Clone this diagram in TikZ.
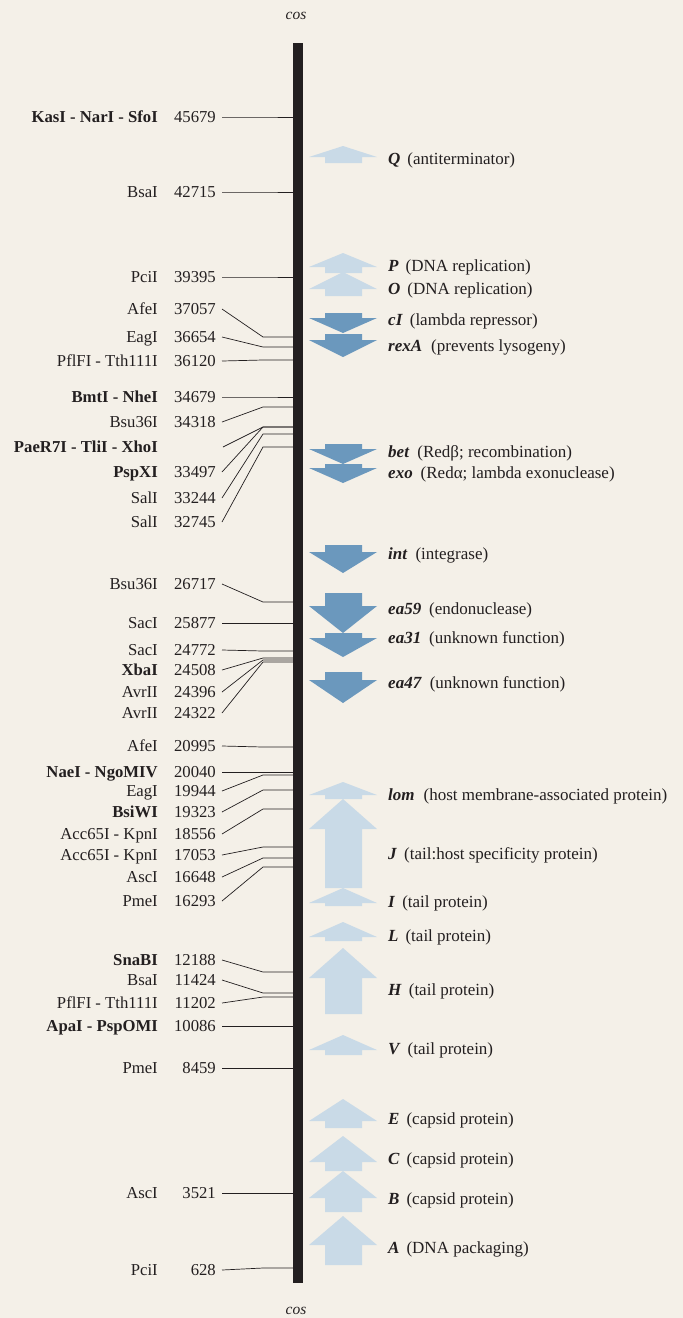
\documentclass[tikz,border=0pt]{standalone}
\usepackage{fontspec}
\setmainfont{Liberation Serif}
\begin{document}
\begin{tikzpicture}[
  sitename/.style={anchor=east, inner sep=0pt, text height=12pt, text depth=1pt,
    text={rgb,255:red,35;green,31;blue,32}, font=\fontsize{16.7}{18}\selectfont},
  sitenum/.style={sitename},
  genelbl/.style={anchor=west, inner sep=0pt, text height=12pt, text depth=1pt,
    text={rgb,255:red,35;green,31;blue,32}, font=\fontsize{17}{18}\selectfont},
  cosmark/.style={inner sep=0pt, text={rgb,255:red,35;green,31;blue,32}, font=\fontsize{15.5}{17}\selectfont\itshape},
  sitetick/.style={draw={rgb,255:red,35;green,31;blue,32}, line width=0.7pt}
]
% Lambda map drawn in pixel units (y grows downwards)
\def\pxsz{1pt}
\providecommand{\geneArrow}[3]{\fill (343,#1) -- (377,#2) -- (362,#2) -- (362,#3) -- (325,#3) -- (325,#2) -- (309,#2) -- cycle;}
\begin{scope}[x=\pxsz, y=-\pxsz, line join=miter]
  \useasboundingbox (0,0) rectangle (683,1318);
  % Background
  \fill[fill={rgb,255:red,244;green,240;blue,232}] (0,0) rectangle (683,1318);
  % Genome bar and cos ends
  \node[fill={rgb,255:red,35;green,31;blue,32}, inner sep=0pt, minimum width=10pt, minimum height=1240pt] (bar) at (298,663) {};
  \node[cosmark] (cosTop) at (296,16) {cos};
  \node[cosmark] (cosBot) at (296,1311) {cos};
  % Restriction sites: names
  \node[sitename] (s01) at (158,117) {\textbf{KasI - NarI - SfoI}};
  \node[sitename] (s02) at (158,192) {BsaI};
  \node[sitename] (s03) at (158,277) {PciI};
  \node[sitename] (s04) at (158,309) {AfeI};
  \node[sitename] (s05) at (158,337) {EagI};
  \node[sitename] (s06) at (158,361) {PflFI - Tth111I};
  \node[sitename] (s07) at (158,397) {\textbf{BmtI - NheI}};
  \node[sitename] (s08) at (158,422) {Bsu36I};
  \node[sitename] (s09) at (158,447) {\textbf{PaeR7I - TliI - XhoI}};
  \node[sitename] (s10) at (158,472) {\textbf{PspXI}};
  \node[sitename] (s11) at (158,498) {SalI};
  \node[sitename] (s12) at (158,522) {SalI};
  \node[sitename] (s13) at (158,584) {Bsu36I};
  \node[sitename] (s14) at (158,623) {SacI};
  \node[sitename] (s15) at (158,650) {SacI};
  \node[sitename] (s16) at (158,670) {\textbf{XbaI}};
  \node[sitename] (s17) at (158,692) {AvrII};
  \node[sitename] (s18) at (158,713) {AvrII};
  \node[sitename] (s19) at (158,746) {AfeI};
  \node[sitename] (s20) at (158,772) {\textbf{NaeI - NgoMIV}};
  \node[sitename] (s21) at (158,791) {EagI};
  \node[sitename] (s22) at (158,812) {\textbf{BsiWI}};
  \node[sitename] (s23) at (158,834) {Acc65I - KpnI};
  \node[sitename] (s24) at (158,855) {Acc65I - KpnI};
  \node[sitename] (s25) at (158,877) {AscI};
  \node[sitename] (s26) at (158,901) {PmeI};
  \node[sitename] (s27) at (158,960) {\textbf{SnaBI}};
  \node[sitename] (s28) at (158,980) {BsaI};
  \node[sitename] (s29) at (158,1003) {PflFI - Tth111I};
  \node[sitename] (s30) at (158,1026) {\textbf{ApaI - PspOMI}};
  \node[sitename] (s31) at (158,1068) {PmeI};
  \node[sitename] (s32) at (158,1193) {AscI};
  \node[sitename] (s33) at (158,1270) {PciI};
  % Restriction sites: positions
  \node[sitenum] (n01) at (216,117) {45679};
  \node[sitenum] (n02) at (216,192) {42715};
  \node[sitenum] (n03) at (216,277) {39395};
  \node[sitenum] (n04) at (216,309) {37057};
  \node[sitenum] (n05) at (216,337) {36654};
  \node[sitenum] (n06) at (216,361) {36120};
  \node[sitenum] (n07) at (216,397) {34679};
  \node[sitenum] (n08) at (216,422) {34318};
  \node[sitenum] (n09) at (216,447) {};
  \node[sitenum] (n10) at (216,472) {33497};
  \node[sitenum] (n11) at (216,498) {33244};
  \node[sitenum] (n12) at (216,522) {32745};
  \node[sitenum] (n13) at (216,584) {26717};
  \node[sitenum] (n14) at (216,623) {25877};
  \node[sitenum] (n15) at (216,650) {24772};
  \node[sitenum] (n16) at (216,670) {24508};
  \node[sitenum] (n17) at (216,692) {24396};
  \node[sitenum] (n18) at (216,713) {24322};
  \node[sitenum] (n19) at (216,746) {20995};
  \node[sitenum] (n20) at (216,772) {20040};
  \node[sitenum] (n21) at (216,791) {19944};
  \node[sitenum] (n22) at (216,812) {19323};
  \node[sitenum] (n23) at (216,834) {18556};
  \node[sitenum] (n24) at (216,855) {17053};
  \node[sitenum] (n25) at (216,877) {16648};
  \node[sitenum] (n26) at (216,901) {16293};
  \node[sitenum] (n27) at (216,960) {12188};
  \node[sitenum] (n28) at (216,980) {11424};
  \node[sitenum] (n29) at (216,1003) {11202};
  \node[sitenum] (n30) at (216,1026) {10086};
  \node[sitenum] (n31) at (216,1068) {8459};
  \node[sitenum] (n32) at (216,1193) {3521};
  \node[sitenum] (n33) at (216,1270) {628};
  % Kinks where ticks turn flat towards the bar
  \coordinate (k01) at (263,117);
  \coordinate (k02) at (263,192);
  \coordinate (k03) at (263,277);
  \coordinate (k04) at (263,337);
  \coordinate (k05) at (263,347);
  \coordinate (k06) at (263,360);
  \coordinate (k07) at (263,397);
  \coordinate (k08) at (263,407);
  \coordinate (k09) at (263,427);
  \coordinate (k10) at (263,427);
  \coordinate (k11) at (263,434);
  \coordinate (k12) at (263,447);
  \coordinate (k13) at (263,602);
  \coordinate (k14) at (263,623);
  \coordinate (k15) at (263,651);
  \coordinate (k16) at (263,658);
  \coordinate (k17) at (263,660);
  \coordinate (k18) at (263,662);
  \coordinate (k19) at (263,747);
  \coordinate (k20) at (263,772);
  \coordinate (k21) at (263,775);
  \coordinate (k22) at (263,790);
  \coordinate (k23) at (263,809);
  \coordinate (k24) at (263,847);
  \coordinate (k25) at (263,858);
  \coordinate (k26) at (263,867);
  \coordinate (k27) at (263,972);
  \coordinate (k28) at (263,993);
  \coordinate (k29) at (263,997);
  \coordinate (k30) at (263,1026);
  \coordinate (k31) at (263,1068);
  \coordinate (k32) at (263,1193);
  \coordinate (k33) at (263,1268);
  % Ticks
  \begin{scope}[sitetick]
    \draw ([xshift=6pt]n01.east) -- (k01) -- (k01 -| bar.west);
    \draw ([xshift=6pt]n02.east) -- (k02) -- (k02 -| bar.west);
    \draw ([xshift=6pt]n03.east) -- (k03) -- (k03 -| bar.west);
    \draw ([xshift=6pt]n04.east) -- (k04) -- (k04 -| bar.west);
    \draw ([xshift=6pt]n05.east) -- (k05) -- (k05 -| bar.west);
    \draw ([xshift=6pt]n06.east) -- (k06) -- (k06 -| bar.west);
    \draw ([xshift=6pt]n07.east) -- (k07) -- (k07 -| bar.west);
    \draw ([xshift=6pt]n08.east) -- (k08) -- (k08 -| bar.west);
    \draw ([xshift=7pt]n09.east) -- (k09) -- (k09 -| bar.west);
    \draw ([xshift=6pt]n10.east) -- (k10) -- (k10 -| bar.west);
    \draw ([xshift=6pt]n11.east) -- (k11) -- (k11 -| bar.west);
    \draw ([xshift=6pt]n12.east) -- (k12) -- (k12 -| bar.west);
    \draw ([xshift=6pt]n13.east) -- (k13) -- (k13 -| bar.west);
    \draw ([xshift=6pt]n14.east) -- (k14) -- (k14 -| bar.west);
    \draw ([xshift=6pt]n15.east) -- (k15) -- (k15 -| bar.west);
    \draw ([xshift=6pt]n16.east) -- (k16) -- (k16 -| bar.west);
    \draw ([xshift=6pt]n17.east) -- (k17) -- (k17 -| bar.west);
    \draw ([xshift=6pt]n18.east) -- (k18) -- (k18 -| bar.west);
    \draw ([xshift=6pt]n19.east) -- (k19) -- (k19 -| bar.west);
    \draw ([xshift=6pt]n20.east) -- (k20) -- (k20 -| bar.west);
    \draw ([xshift=6pt]n21.east) -- (k21) -- (k21 -| bar.west);
    \draw ([xshift=6pt]n22.east) -- (k22) -- (k22 -| bar.west);
    \draw ([xshift=6pt]n23.east) -- (k23) -- (k23 -| bar.west);
    \draw ([xshift=6pt]n24.east) -- (k24) -- (k24 -| bar.west);
    \draw ([xshift=6pt]n25.east) -- (k25) -- (k25 -| bar.west);
    \draw ([xshift=6pt]n26.east) -- (k26) -- (k26 -| bar.west);
    \draw ([xshift=6pt]n27.east) -- (k27) -- (k27 -| bar.west);
    \draw ([xshift=6pt]n28.east) -- (k28) -- (k28 -| bar.west);
    \draw ([xshift=6pt]n29.east) -- (k29) -- (k29 -| bar.west);
    \draw ([xshift=6pt]n30.east) -- (k30) -- (k30 -| bar.west);
    \draw ([xshift=6pt]n31.east) -- (k31) -- (k31 -| bar.west);
    \draw ([xshift=6pt]n32.east) -- (k32) -- (k32 -| bar.west);
    \draw ([xshift=6pt]n33.east) -- (k33) -- (k33 -| bar.west);
  \end{scope}
  % Rightward genes (light arrows pointing up): tip, head base, tail
  \begin{scope}[fill={rgb,255:red,201;green,218;blue,231}]
    \geneArrow{146}{157}{163}
    \geneArrow{253}{267}{273}
    \geneArrow{272}{289}{296}
    \geneArrow{782}{795}{799}
    \geneArrow{799}{829}{888}
    \geneArrow{888}{903}{906}
    \geneArrow{922}{937}{941}
    \geneArrow{948}{978}{1014}
    \geneArrow{1035}{1050}{1055}
    \geneArrow{1099}{1121}{1128}
    \geneArrow{1136}{1162}{1171}
    \geneArrow{1171}{1198}{1212}
    \geneArrow{1216}{1245}{1265}
  \end{scope}
  % Leftward genes (dark arrows pointing down)
  \begin{scope}[fill={rgb,255:red,107;green,152;blue,189}]
    \geneArrow{333}{318}{313}
    \geneArrow{357}{340}{334}
    \geneArrow{464}{449}{444}
    \geneArrow{483}{468}{464}
    \geneArrow{573}{552}{545}
    \geneArrow{633}{606}{593}
    \geneArrow{657}{638}{633}
    \geneArrow{703}{680}{672}
  \end{scope}
  % Gene labels
  \node[genelbl] (gQ) at (388,159) {\textbf{\textit{Q}}\hspace{7pt}(antiterminator)};
  \node[genelbl] (gP) at (388,266) {\textbf{\textit{P}}\hspace{7pt}(DNA replication)};
  \node[genelbl] (gO) at (388,289) {\textbf{\textit{O}}\hspace{7pt}(DNA replication)};
  \node[genelbl] (gcI) at (388,320) {\textbf{\textit{cI}}\hspace{7pt}(lambda repressor)};
  \node[genelbl] (grexA) at (388,346) {\textbf{\textit{rexA}}\hspace{9pt}(prevents lysogeny)};
  \node[genelbl] (gbet) at (388,452) {\textbf{\textit{bet}}\hspace{8pt}(Redβ; recombination)};
  \node[genelbl] (gexo) at (388,473) {\textbf{\textit{exo}}\hspace{8pt}(Redα; lambda exonuclease)};
  \node[genelbl] (gint) at (388,554) {\textbf{\textit{int}}\hspace{8pt}(integrase)};
  \node[genelbl] (gea59) at (388,609) {\textbf{\textit{ea59}}\hspace{8pt}(endonuclease)};
  \node[genelbl] (gea31) at (388,638) {\textbf{\textit{ea31}}\hspace{8pt}(unknown function)};
  \node[genelbl] (gea47) at (388,683) {\textbf{\textit{ea47}}\hspace{8pt}(unknown function)};
  \node[genelbl] (glom) at (388,795) {\textbf{\textit{lom}}\hspace{9pt}(host membrane-associated protein)};
  \node[genelbl] (gJ) at (388,854) {\textbf{\textit{J}}\hspace{7pt}(tail:host specificity protein)};
  \node[genelbl] (gI) at (388,902) {\textbf{\textit{I}}\hspace{7pt}(tail protein)};
  \node[genelbl] (gL) at (388,936) {\textbf{\textit{L}}\hspace{7pt}(tail protein)};
  \node[genelbl] (gH) at (388,990) {\textbf{\textit{H}}\hspace{7pt}(tail protein)};
  \node[genelbl] (gV) at (388,1049) {\textbf{\textit{V}}\hspace{7pt}(tail protein)};
  \node[genelbl] (gE) at (388,1119) {\textbf{\textit{E}}\hspace{7pt}(capsid protein)};
  \node[genelbl] (gC) at (388,1159) {\textbf{\textit{C}}\hspace{7pt}(capsid protein)};
  \node[genelbl] (gB) at (388,1199) {\textbf{\textit{B}}\hspace{7pt}(capsid protein)};
  \node[genelbl] (gA) at (388,1248) {\textbf{\textit{A}}\hspace{7pt}(DNA packaging)};
\end{scope}
\end{tikzpicture}
\end{document}
